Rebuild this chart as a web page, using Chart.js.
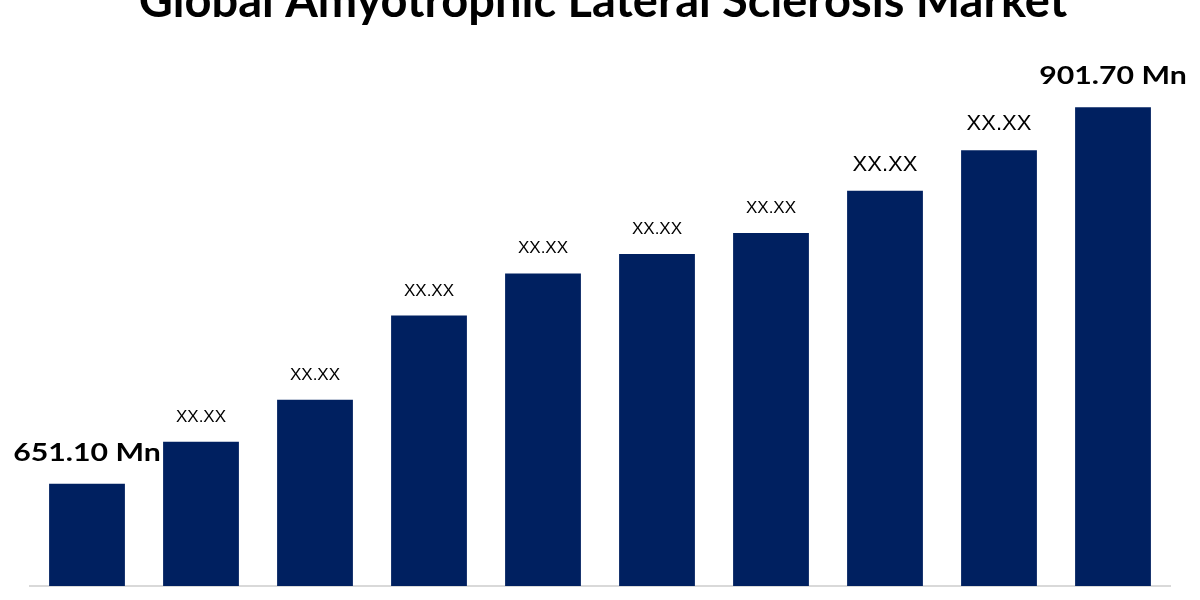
<!DOCTYPE html>
<html>
<head>
<meta charset="utf-8">
<script src="https://cdn.jsdelivr.net/npm/chart.js@4"></script>
<style>
  html, body { margin: 0; padding: 0; background: #fff; }
  #wrap { width: 1200px; height: 600px; }
</style>
</head>
<body>
<div id="wrap"><canvas id="marketChart" width="1200" height="600"></canvas></div>
<script>
const chartTitle = 'Global Amyotrophic Lateral Sclerosis Market';
const years = ['2023', '2024', '2025', '2026', '2027', '2028', '2029', '2030', '2031', '2032'];
const marketValues = [651.1, 679, 707, 763, 791, 804, 818, 846, 873, 901.7];
const valueLabels = ['651.10 Mn', 'XX.XX', 'XX.XX', 'XX.XX', 'XX.XX', 'XX.XX', 'XX.XX', 'XX.XX', 'XX.XX', '901.70 Mn'];
const labelSizes = [24, 17, 17, 17, 17, 17, 17, 22, 22, 24];

const barColor = '#002060';

// title sits partly above the canvas, like the cropped original
const titlePlugin = {
  id: 'cutTitle',
  afterDraw(chart) {
    const ctx = chart.ctx;
    ctx.save();
    ctx.font = 'bold 47px Lato';
    ctx.fillStyle = '#000';
    ctx.textAlign = 'center';
    ctx.textBaseline = 'alphabetic';
    ctx.fillText(chartTitle, 603, 17);
    ctx.restore();
  }
};

const valueLabelPlugin = {
  id: 'valueLabels',
  afterDatasetsDraw(chart) {
    const ctx = chart.ctx;
    const meta = chart.getDatasetMeta(0);
    ctx.fillStyle = '#000';
    meta.data.forEach((bar, i) => {
      const big = valueLabels[i].includes('Mn');
      ctx.save();
      ctx.textAlign = 'center';
      ctx.textBaseline = 'alphabetic';
      if (big) {
        // the original's bold labels are wider than Lato, stretch a bit
        ctx.font = 'bold ' + labelSizes[i] + 'px Lato';
        ctx.translate(bar.x, bar.y - 23);
        ctx.scale(1.26, 1);
        ctx.fillText(valueLabels[i], 0, 0);
      } else {
        ctx.font = labelSizes[i] + 'px "Liberation Sans"';
        ctx.fillText(valueLabels[i], bar.x, bar.y - 20);
      }
      ctx.restore();
    });
  }
};

new Chart(document.getElementById('marketChart'), {
  type: 'bar',
  data: {
    labels: years,
    datasets: [{
      label: 'Market size',
      data: marketValues,
      backgroundColor: barColor,
      borderWidth: 0,
      categoryPercentage: 1,
      barPercentage: 0.665
    }]
  },
  options: {
    responsive: false,
    animation: false,
    layout: {
      padding: { left: 30, right: 30, top: 0, bottom: 6 }
    },
    plugins: {
      legend: { display: false },
      tooltip: { enabled: false },
      title: { display: false }
    },
    scales: {
      x: {
        grid: { display: false },
        ticks: { display: false },
        border: { display: true, color: '#d9d9d9', width: 2 }
      },
      y: {
        display: false,
        min: 583,
        max: 973
      }
    }
  },
  plugins: [valueLabelPlugin, titlePlugin]
});
</script>
</body>
</html>
